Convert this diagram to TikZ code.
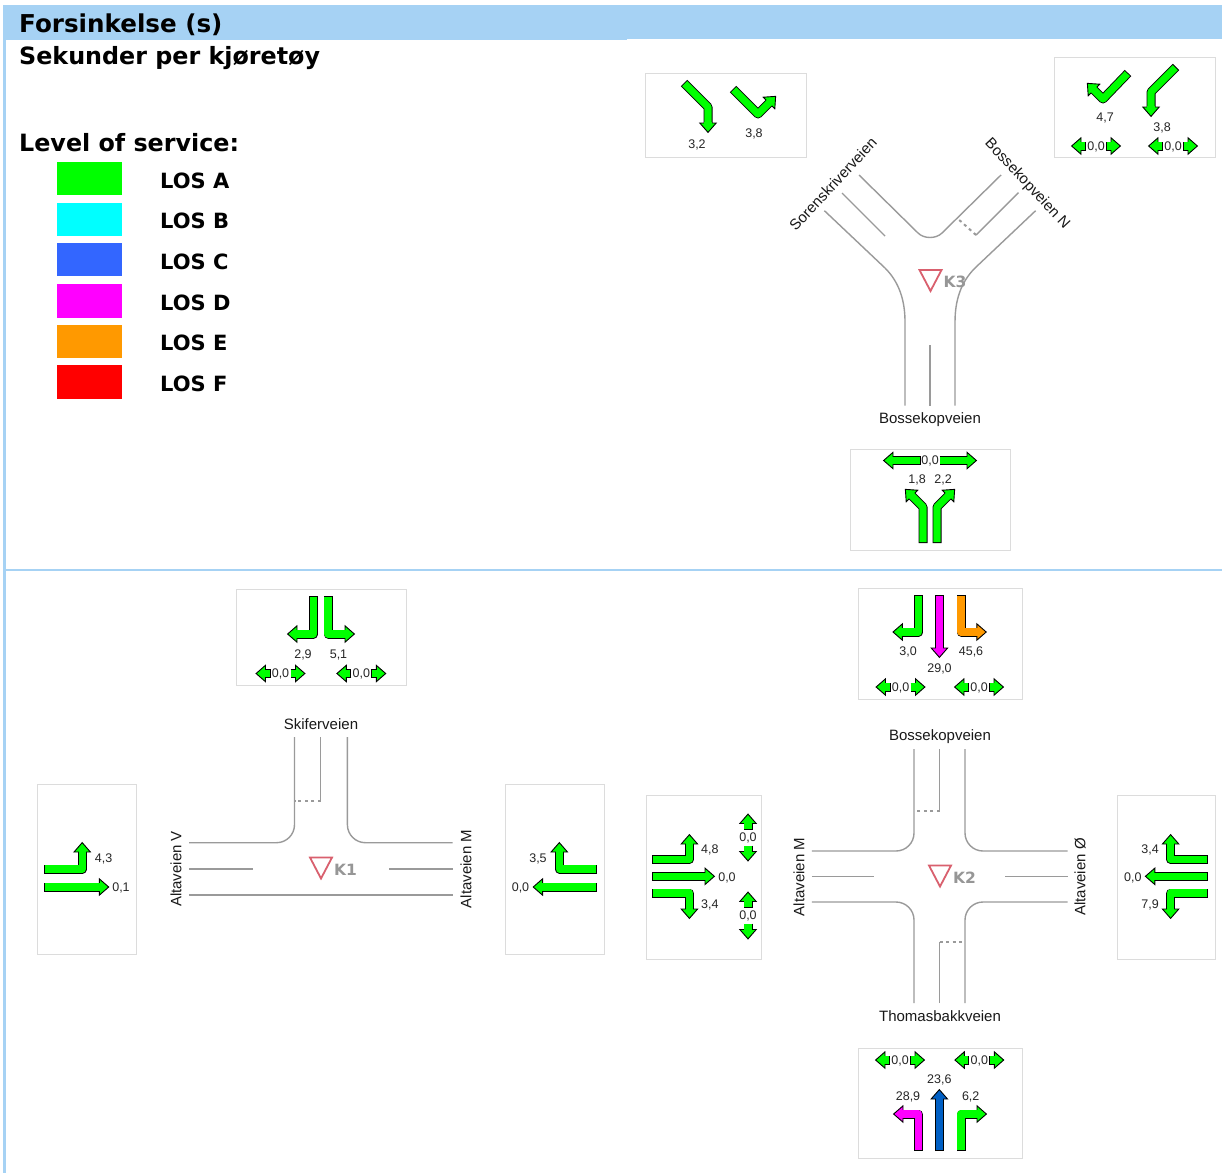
\documentclass[tikz,border=0pt]{standalone}
\usepackage{fontspec}
\setmainfont{Liberation Sans}
\newfontfamily\vbfont{DejaVu Sans}
\definecolor{hdr}{HTML}{A6D2F4}
\definecolor{losa}{HTML}{00FF00}
\definecolor{losb}{HTML}{00FFFF}
\definecolor{losc}{HTML}{3366FF}
\definecolor{losd}{HTML}{FF00FF}
\definecolor{lose}{HTML}{FF9900}
\definecolor{losf}{HTML}{FF0000}
\definecolor{bluearrow}{HTML}{005FC4}
\definecolor{roadgray}{HTML}{9A9A9A}
\definecolor{panelgray}{HTML}{DCDCDC}
\definecolor{yieldred}{HTML}{D9606E}
\definecolor{kgray}{HTML}{969696}
\newcommand{\arr}[4]{%
  \draw[black,line width=9pt,line join=round] #2 -- (#3);
  \begin{scope}[shift={(#3)},rotate=#4]
    \filldraw[fill=#1,draw=black,line width=.9pt,line join=miter] (0,-8.2) -- (9.4,0) -- (0,8.2) -- cycle;
    \fill[#1] (-1,-3.6) rectangle (1.6,3.6);
  \end{scope}
  \draw[#1,line width=7.2pt,line join=round,shorten <=0.9pt] #2 -- (#3);
}
\newcommand{\dbl}[2]{%
  \arr{losa}{({#1-10},#2)}{{#1-15},#2}{180}
  \arr{losa}{({#1+10},#2)}{{#1+15},#2}{0}
  \node[num,fill=white,inner xsep=0.5pt] at (#1,{#2+0.5}) {0,0};
}
\newcommand{\dblv}[2]{%
  \arr{losa}{(#1,{#2-8})}{#1,{#2-14}}{90}
  \arr{losa}{(#1,{#2+8})}{#1,{#2+14}}{-90}
  \node[num] at (#1,{#2+0.5}) {0,0};
}
\newcommand{\yieldsign}[3]{%
  \draw[yieldred,line width=1.8pt,fill=white,line join=miter] (#1,#2) -- ({#1+22},#2) -- ({#1+11},{#2+21}) -- cycle;
  \node[kname,anchor=west,inner sep=0pt] at ({#1+24},{#2+12}) {#3};
}
\tikzset{
  x=1pt,y=-1pt,
  panel/.style={draw=panelgray,fill=white,line width=1pt},
  road/.style={draw=roadgray,line width=1.4pt},
  stopline/.style={draw=roadgray,line width=2pt,dash pattern=on 3pt off 3.5pt},
  num/.style={font=\fontsize{12.5}{14}\selectfont,inner sep=0pt,text=black!85},
  roadname/.style={font=\fontsize{15}{17}\selectfont,inner sep=0pt,text=black!90},
  kname/.style={font=\vbfont\bfseries\fontsize{15.5}{17}\selectfont,text=kgray},
  htext/.style={font=\vbfont\bfseries\fontsize{23.8}{27}\selectfont,anchor=base west,inner sep=0pt},
  lostext/.style={font=\vbfont\bfseries\fontsize{21}{24}\selectfont,anchor=base west,inner sep=0pt},
}
\begin{document}
\begin{tikzpicture}
\useasboundingbox (0,0) rectangle (1222,1173);
\fill[white] (0,0) rectangle (1222,1173);
% frame
\fill[hdr] (3,5) rectangle (627,40);
\fill[hdr] (627,5) rectangle (1222,39);
\fill[hdr] (3,40) rectangle (6,1173);
\fill[hdr] (6,569) rectangle (1222,570.5);
% heading
\node[htext,font=\vbfont\bfseries\fontsize{24.6}{27}\selectfont] (title) at (19,32) {Forsinkelse (s)};
\node[htext] (sub) at (19,64) {Sekunder per kjøretøy};
\node[htext] (los) at (19,151) {Level of service:};
% legend
\foreach \c/\ya/\yb/\t/\yt in {losa/162/195/LOS A/188,losb/203/236/LOS B/228,losc/243/276/LOS C/269,losd/284/318/LOS D/310,lose/325/358/LOS E/350,losf/365/399/LOS F/391}{
  \fill[\c] (57,\ya) rectangle (122,\yb);
  \node[lostext] at (160,\yt) {\t};
}
% panels
\draw[panel] (645,73) rectangle (806,157);
\draw[panel] (1054,57) rectangle (1215,157);
\draw[panel] (850,449) rectangle (1010,550);
\draw[panel] (236,589) rectangle (406,685);
\draw[panel] (37,784) rectangle (136.5,954);
\draw[panel] (505,784) rectangle (604.5,954);
\draw[panel] (858,588) rectangle (1022,699);
\draw[panel] (646,795) rectangle (761.5,959);
\draw[panel] (1117.5,795) rectangle (1215,959);
\draw[panel] (858,1048) rectangle (1022,1158);
% K3 road
\draw[road] (824.4,210.7) -- (885,268) .. controls (899,282) and (905,300) .. (905,322) -- (905,405.7);
\draw[road] (1035.6,210.7) -- (975,268) .. controls (961,282) and (955,300) .. (955,322) -- (955,405.7);
\draw[road] (859,175) -- (918,233) .. controls (924,239) and (936,239) .. (942,233) -- (1001,175);
\draw[road] (842,193) -- (885,236);
\draw[road] (1018.5,192.7) -- (976,235);
\draw[stopline] (976,235) -- (957,218);
\draw[road] (930,345) -- (930,405.7);
\yieldsign{919.5}{270}{K3}
\node[roadname,rotate=47] (n31) at (833,184) {Sorenskriverveien};
\node[roadname,rotate=-47] (n32) at (1027,184) {Bossekopveien N};
\node[roadname] (n33) at (930,419.5) {Bossekopveien};
% K3 panels
\arr{losa}{(684,83) -- (708,107)}{708,123}{-90}
\node[num] at (697,144.5) {3,2};
\arr{losa}{(733,89) -- (758,114)}{769,103}{45}
\node[num] at (754,133.5) {3,8};
\arr{losa}{(1128,73) -- (1103,99)}{1094,90}{135}
\node[num] at (1105,117.5) {4,7};
\arr{losa}{(1176,67) -- (1151,92)}{1151,107}{-90}
\node[num] at (1162,127.5) {3,8};
\dbl{1096}{146}
\dbl{1173}{146}
\arr{losa}{(920.5,460.5)}{893,460.5}{180}
\arr{losa}{(939.5,460.5)}{967,460.5}{0}
\node[num] at (930,461) {0,0};
\node[num] at (917,479.5) {1,8};
\node[num] at (943,479.5) {2,2};
\arr{losa}{(923,543) -- (923,507)}{912,496}{135}
\arr{losa}{(937,543) -- (937,507)}{948,496}{45}
% K1 road
\draw[road,rounded corners=18pt] (294.5,737) -- (294.5,842.7) -- (189,842.7);
\draw[road,rounded corners=18pt] (347.4,737) -- (347.4,842.7) -- (452.6,842.7);
\draw[road] (320.6,737) -- (320.6,801);
\draw[stopline] (320.6,801) -- (294.5,801);
\draw[road] (189,869) -- (253,869);
\draw[road] (389,869) -- (452.6,869);
\draw[road] (189,895) -- (452.6,895);
\yieldsign{310}{857.5}{K1}
\node[roadname] (n11) at (321,724.5) {Skiferveien};
\node[roadname,rotate=90] (n12) at (176,869) {Altaveien V};
\node[roadname,rotate=90] (n13) at (466,869) {Altaveien M};
% K1 panels
\arr{losa}{(313.4,596) -- (313.4,634)}{297,634}{180}
\arr{losa}{(328,596) -- (328,634)}{345,634}{0}
\node[num] at (303,654.5) {2,9};
\node[num] at (338.5,654.5) {5,1};
\dbl{280.5}{673.5}
\dbl{361.3}{673.5}
\arr{losa}{(44.3,869) -- (82.2,869)}{82.2,852}{90}
\arr{losa}{(44.3,887)}{99.3,887}{0}
\node[num] at (103.6,858.5) {4,3};
\node[num] at (121,887.5) {0,1};
\arr{losa}{(597.2,869) -- (559.3,869)}{559.3,852}{90}
\arr{losa}{(597.2,887)}{542.6,887}{180}
\node[num] at (538,858.5) {3,5};
\node[num] at (520.5,887.5) {0,0};
% K2 road
\draw[road,rounded corners=18pt] (914,749) -- (914,851) -- (811.8,851);
\draw[road,rounded corners=18pt] (965,749) -- (965,851) -- (1067.5,851);
\draw[road,rounded corners=18pt] (914,1003) -- (914,902) -- (811.8,902);
\draw[road,rounded corners=18pt] (965,1003) -- (965,902) -- (1067.5,902);
\draw[road] (939.5,749) -- (939.5,810.7);
\draw[stopline] (939.5,810.7) -- (914,810.7);
\draw[road] (939.5,1003) -- (939.5,941.7);
\draw[stopline] (939.5,941.7) -- (965,941.7);
\draw[road] (811.8,876.3) -- (873.8,876.3);
\draw[road] (1005,876.3) -- (1067.5,876.3);
\yieldsign{929}{865.5}{K2}
\node[roadname] (n21) at (940,736.5) {Bossekopveien};
\node[roadname] (n22) at (940,1016.5) {Thomasbakkveien};
\node[roadname,rotate=90] (n23) at (799,877) {Altaveien M};
\node[roadname,rotate=90] (n24) at (1080,877) {Altaveien Ø};
% K2 panels
\arr{losa}{(918.7,595) -- (918.7,632)}{902.4,632}{180}
\arr{losd}{(939.4,595)}{939.4,648}{-90}
\arr{lose}{(961,595) -- (961,632)}{976.8,632}{0}
\node[num] at (908,651.5) {3,0};
\node[num] at (971,651.5) {45,6};
\node[num] at (939.5,668.5) {29,0};
\dbl{900.5}{687}
\dbl{979}{687}
\arr{losa}{(652,859.3) -- (689.4,859.3)}{689.4,844}{90}
\arr{losa}{(652,876.3)}{705,876.3}{0}
\arr{losa}{(652,893) -- (689.4,893)}{689.4,909}{-90}
\node[num] at (709.8,849.5) {4,8};
\node[num] at (727,877.5) {0,0};
\node[num] at (709.8,904.5) {3,4};
\dblv{748}{837.5}
\dblv{748}{915.5}
\arr{losa}{(1207.7,859.3) -- (1170.6,859.3)}{1170.6,844}{90}
\arr{losa}{(1207.7,876.3)}{1154.8,876.3}{180}
\arr{losa}{(1207.7,893) -- (1170.6,893)}{1170.6,909}{-90}
\node[num] at (1150,849.5) {3,4};
\node[num] at (1132.8,877.5) {0,0};
\node[num] at (1150,904.5) {7,9};
\dbl{900}{1060}
\dbl{979.3}{1060}
\node[num] at (939.3,1079.5) {23,6};
\node[num] at (908,1097) {28,9};
\node[num] at (970.7,1097) {6,2};
\arr{losd}{(918.3,1151) -- (918.3,1114)}{903,1114}{180}
\arr{bluearrow}{(939.3,1151)}{939.3,1099}{90}
\arr{losa}{(961,1151) -- (961,1114)}{977,1114}{0}
\end{tikzpicture}
\end{document}
